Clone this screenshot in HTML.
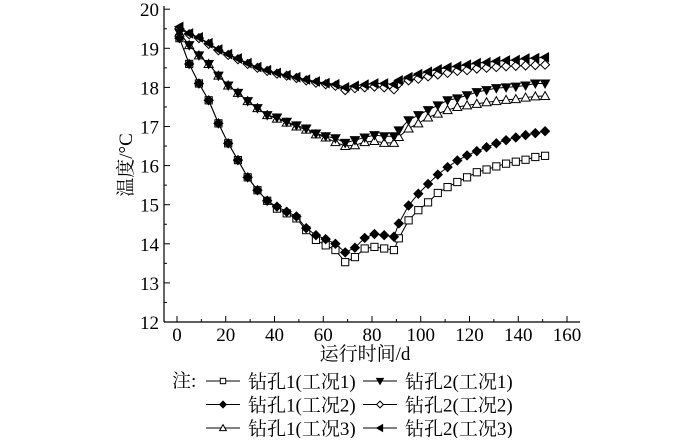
<!DOCTYPE html>
<html><head><meta charset="utf-8"><style>
body{margin:0;background:#fff;}
svg text{font-family:"Liberation Serif","Noto Serif CJK SC",serif;fill:#000;}
</style></head><body>
<svg id="chart" width="700" height="438" xmlns="http://www.w3.org/2000/svg">
<g id="axes"></g><g id="series"></g><g id="legend"></g>
</svg>
<script>
const days=[1,5,9,13,17,21,25,29,33,37,41,45,49,53,57,61,65,69,73,77,81,85,89,91,95,99,103,107,111,115,119,123,127,131,135,139,143,147,151];
const b1c1=[19.26,18.6,18.1,17.67,17.08,16.57,16.14,15.7,15.37,15.1,14.9,14.78,14.65,14.35,14.1,13.96,13.84,13.53,13.66,13.88,13.92,13.88,13.84,14.14,14.6,14.86,15.06,15.3,15.45,15.58,15.7,15.83,15.9,15.98,16.05,16.1,16.15,16.22,16.25];
const b1c2=[19.26,18.6,18.1,17.67,17.08,16.57,16.14,15.7,15.37,15.1,14.95,14.82,14.7,14.4,14.22,14.12,14.0,13.78,13.9,14.15,14.25,14.22,14.18,14.52,14.98,15.28,15.53,15.77,15.96,16.13,16.26,16.37,16.47,16.57,16.65,16.72,16.78,16.83,16.88];
const b2c1=[19.4,19.08,18.82,18.6,18.3,18.05,17.86,17.65,17.47,17.29,17.23,17.12,17.03,16.95,16.82,16.75,16.7,16.58,16.65,16.72,16.78,16.75,16.75,16.9,17.16,17.29,17.42,17.54,17.67,17.72,17.8,17.88,17.93,17.98,18.0,18.02,18.05,18.1,18.1];
const b1c3=[19.4,19.08,18.82,18.6,18.3,18.05,17.86,17.65,17.47,17.29,17.2,17.1,17.0,16.92,16.8,16.72,16.6,16.5,16.52,16.6,16.63,16.58,16.58,16.73,16.95,17.08,17.23,17.33,17.42,17.5,17.54,17.58,17.62,17.65,17.68,17.7,17.74,17.77,17.78];
const b2c3=[19.55,19.38,19.28,19.13,18.97,18.85,18.74,18.62,18.52,18.44,18.37,18.31,18.26,18.2,18.15,18.11,18.08,18.0,18.04,18.07,18.1,18.1,18.08,18.18,18.26,18.34,18.4,18.46,18.51,18.54,18.58,18.62,18.64,18.67,18.69,18.7,18.74,18.75,18.77];
const b2c2=[19.5,19.36,19.26,19.11,18.95,18.83,18.72,18.6,18.5,18.42,18.35,18.3,18.24,18.18,18.12,18.08,18.04,17.93,17.98,18.0,18.02,18.0,17.95,18.1,18.18,18.22,18.28,18.33,18.37,18.42,18.44,18.48,18.5,18.52,18.54,18.55,18.56,18.57,18.58];
const xTicks=[0,20,40,60,80,100,120,140,160];
const yTicks=[12,13,14,15,16,17,18,19,20];

const NS="http://www.w3.org/2000/svg";
const X=v=>177+v*2.4375;
const Y=v=>322-(v-12)*39.1;
function mk(tag,attrs,parent){const e=document.createElementNS(NS,tag);for(const k in attrs)e.setAttribute(k,attrs[k]);parent.appendChild(e);return e;}
const axes=document.getElementById('axes');
let a=mk('line',{x1:164,y1:6,x2:164,y2:322,stroke:'#000','stroke-width':1.2},axes);


a=mk('line',{x1:164,y1:322,x2:580,y2:322,stroke:'#000','stroke-width':1.2},axes);


xTicks.forEach((t,i)=>{
 mk('line',{x1:X(t),y1:322,x2:X(t),y2:316,stroke:'#000'},axes);
 if(i<xTicks.length-1) mk('line',{x1:X(t+10),y1:322,x2:X(t+10),y2:319,stroke:'#000'},axes);
 const tx=mk('text',{x:X(t),y:341,'font-size':19,'text-anchor':'middle'},axes);tx.textContent=t;
 
 
});
yTicks.forEach((t,i)=>{
 mk('line',{x1:164,y1:Y(t),x2:170,y2:Y(t),stroke:'#000'},axes);
 if(i<yTicks.length-1) mk('line',{x1:164,y1:Y(t+0.5),x2:167,y2:Y(t+0.5),stroke:'#000'},axes);
 const tx=mk('text',{x:159,y:Y(t)+7,'font-size':19,'text-anchor':'end'},axes);tx.textContent=t;
 
 
});
let tt=mk('text',{x:365,y:360,'font-size':19,'text-anchor':'middle'},axes);tt.textContent='运行时间/d';


tt=mk('text',{x:0,y:0,'font-size':19,'text-anchor':'middle',transform:'translate(132,165) rotate(-90)'},axes);tt.textContent='温度/°C';



function marker(g,type,x,y,k){
 k=k||1;const s=3.6*k,d=4.5*k,e=3.5*k;
 if(type==='sq'||type==='sqf') return mk('rect',{x:x-s,y:y-s,width:2*s,height:2*s,fill:type==='sqf'?'#000':'#fff',stroke:'#000','stroke-width':1},g);
 if(type==='dia'||type==='diaf') return mk('polygon',{points:`${x},${y-d} ${x+d},${y} ${x},${y+d} ${x-d},${y}`,fill:type==='diaf'?'#000':'#fff',stroke:'#000','stroke-width':1},g);
 if(type==='tri') return mk('polygon',{points:`${x},${y-d} ${x+d},${y+e} ${x-d},${y+e}`,fill:'#fff',stroke:'#000','stroke-width':1},g);
 if(type==='dtri') return mk('polygon',{points:`${x-d},${y-e} ${x+d},${y-e} ${x},${y+d}`,fill:'#000',stroke:'#000','stroke-width':1},g);
 if(type==='ltri') return mk('polygon',{points:`${x-d},${y} ${x+e},${y-d} ${x+e},${y+d}`,fill:'#000',stroke:'#000','stroke-width':1},g);
}
const series=[
 {name:'b2c2',data:b2c2,m:'dia'},{name:'b2c3',data:b2c3,m:'ltri'},
 {name:'b1c3',data:b1c3,m:'tri'},{name:'b2c1',data:b2c1,m:'dtri'},
 {name:'b1c1',data:b1c1,m:'sq'},{name:'b1c2',data:b1c2,m:'diaf'}];
const sg=document.getElementById('series');
series.forEach(s=>{
 const g=mk('g',{},sg);
 
 
 const pl=mk('polyline',{points:days.map((d,i)=>X(d)+','+Y(s.data[i])).join(' '),fill:'none',stroke:'#000','stroke-width':1},g);
 
 
 days.forEach((d,i)=>{const m=marker(g,s.m,X(d),Y(s.data[i]));
  
  });
});
const lg=document.getElementById('legend');
let nt=mk('text',{x:172,y:387,'font-size':19},lg);nt.textContent='注:';


const legendLabels=['钻孔1(工况1)','钻孔2(工况1)','钻孔1(工况2)','钻孔2(工况2)','钻孔1(工况3)','钻孔2(工况3)'];
const legendMarks=['sq','dtri','diaf','dia','tri','ltri'];
legendLabels.forEach((lab,i)=>{
 const col=i%2,row=Math.floor(i/2);
 const x0=col?363:206,y0=381+row*23.5;
 const g=mk('g',{},lg);
 
 
 mk('line',{x1:x0,y1:y0,x2:x0+34,y2:y0,stroke:'#000','stroke-width':1},g);
 marker(g,legendMarks[i],x0+17,y0,0.75);
 const t=mk('text',{x:x0+42,y:y0+7,'font-size':19},g);t.textContent=lab;
});
</script>
</body></html>
